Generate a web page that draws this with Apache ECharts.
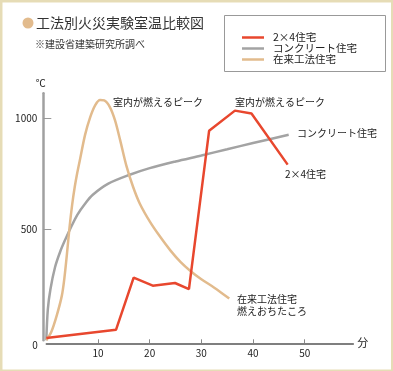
<!DOCTYPE html>
<html><head><meta charset="utf-8">
<script src="https://cdn.jsdelivr.net/npm/echarts@6/dist/echarts.min.js"></script>
<style>html,body{margin:0;padding:0;background:#fff}#c{width:393px;height:371px}</style>
</head><body><div id="c"></div>
<script>
const seriesNames = ['2×4住宅', 'コンクリート住宅', '在来工法住宅'];
const twoByFour = [[0,10],[13.5,48],[16.9,282],[20.6,246],[24.9,258],[27.6,230],[31.5,943],[36.5,1034],[39.7,1021],[46.7,791]];
const concrete = [[0,0],[0.3,140],[0.8,230],[1.7,330],[2.7,400],[3.7,455],[4.8,510],[6,565],[7.5,615],[9,655],[12,705],[16,744],[20,775],[25,805],[30,832],[35,860],[40,888],[46.9,925]];
const conventional = [[0,0],[1,40],[2,110],[3,200],[3.5,280],[4,390],[4.5,510],[5,610],[5.5,690],[6,755],[6.5,812],[7.5,925],[8.5,1005],[9.5,1060],[10.4,1082],[11.2,1080],[12.3,1050],[13.3,990],[14.3,900],[15.5,785],[16.8,690],[18.1,615],[20.1,532],[22,467],[24,405],[26,352],[28,310],[30,275],[32.5,237],[35.4,188]];
const xTickValues = [10, 20, 30, 40, 50];
const yTickValues = [500, 1000];
const originLabel = '0';
const xUnit = '分';
const yUnit = '℃';
const titleText = '工法別火災実験室温比較図';
const subText = '※建設省建築研究所調べ';
const notes = ['室内が燃えるピーク', '室内が燃えるピーク', 'コンクリート住宅', '2×4住宅', '在来工法住宅\n燃えおちたころ'];

const FONT = '"Noto Sans CJK JP", "Noto Sans", sans-serif';
const colors = ['#e8472e', '#a3a3a3', '#e2bb8d'];
const chart = echarts.init(document.getElementById('c'));
chart.setOption({
  animation: false,
  backgroundColor: '#e6dcb6',
  textStyle: { fontFamily: FONT },
  grid: { left: 46.3, top: 93.3, width: 307, height: 247 },
  xAxis: {
    type: 'value', min: 0, max: 59.4, interval: 10, offset: 3,
    axisLine: { onZero: false, lineStyle: { color: '#555', width: 1.5 } },
    axisTick: { inside: true, length: 4, customValues: xTickValues, lineStyle: { color: '#888' } },
    axisLabel: { customValues: xTickValues, margin: 5, fontSize: 10, color: '#222', fontFamily: FONT, formatter: v => String(v) },
    splitLine: { show: false },
    name: xUnit, nameGap: 4, nameTextStyle: { fontSize: 11, color: '#222', fontFamily: FONT }
  },
  yAxis: {
    type: 'value', min: 0, max: 1112, interval: 500, offset: 3,
    axisLine: { onZero: false, lineStyle: { color: '#a0a0a0', width: 2.5 } },
    axisTick: { inside: true, length: 8, customValues: yTickValues, lineStyle: { color: '#999' } },
    axisLabel: { customValues: yTickValues, margin: 6, fontSize: 10, color: '#222', fontFamily: FONT, formatter: v => String(v) },
    splitLine: { show: false },
    name: yUnit, nameLocation: 'end', nameGap: 5,
    nameTextStyle: { fontSize: 10, color: '#222', padding: [0, 5, 0, 0], fontFamily: FONT }
  },
  legend: {
    data: seriesNames, orient: 'vertical', left: 237, top: 27, itemGap: 0,
    itemWidth: 22, itemHeight: 2.5, icon: 'rect',
    textStyle: { fontSize: 10.5, color: '#222', lineHeight: 11, padding: [0, 0, 0, 4], fontFamily: FONT }
  },
  graphic: [
    { type: 'rect', z: -100, silent: true, shape: { x: 2.5, y: 2.5, width: 388.5, height: 367 }, style: { fill: '#fff' } },
    { type: 'rect', shape: { x: 224.5, y: 15.5, width: 161, height: 56 }, style: { fill: 'none', stroke: '#999', lineWidth: 1 } },
    { type: 'circle', shape: { cx: 28, cy: 23, r: 5.5 }, style: { fill: colors[2] } },
    { type: 'text', x: 36, y: 23, style: { text: titleText, font: '14px ' + FONT, fill: '#333', verticalAlign: 'middle' } },
    { type: 'text', x: 35, y: 44, style: { text: subText, font: '10px ' + FONT, fill: '#333', verticalAlign: 'middle' } },
    { type: 'text', x: 35, y: 345, style: { text: originLabel, font: '10px ' + FONT, fill: '#222', align: 'center', verticalAlign: 'middle' } },
    { type: 'text', x: 113, y: 102, style: { text: notes[0], font: '10px ' + FONT, fill: '#222', verticalAlign: 'middle' } },
    { type: 'text', x: 235, y: 102, style: { text: notes[1], font: '10px ' + FONT, fill: '#222', verticalAlign: 'middle' } },
    { type: 'text', x: 297, y: 133, style: { text: notes[2], font: '10px ' + FONT, fill: '#222', verticalAlign: 'middle' } },
    { type: 'text', x: 285, y: 174, style: { text: notes[3], font: '10px ' + FONT, fill: '#222', verticalAlign: 'middle' } },
    { type: 'text', x: 237, y: 305, style: { text: notes[4], font: '10px ' + FONT, lineHeight: 12, fill: '#222', verticalAlign: 'middle' } }
  ],
  series: [
    { name: seriesNames[1], type: 'line', data: concrete, smooth: 0.3, showSymbol: false, color: colors[1], lineStyle: { width: 2.5 } },
    { name: seriesNames[2], type: 'line', data: conventional, smooth: 0.3, showSymbol: false, color: colors[2], lineStyle: { width: 2.5 } },
    { name: seriesNames[0], type: 'line', data: twoByFour, showSymbol: false, color: colors[0], lineStyle: { width: 2.5 } }
  ]
});
</script></body></html>
